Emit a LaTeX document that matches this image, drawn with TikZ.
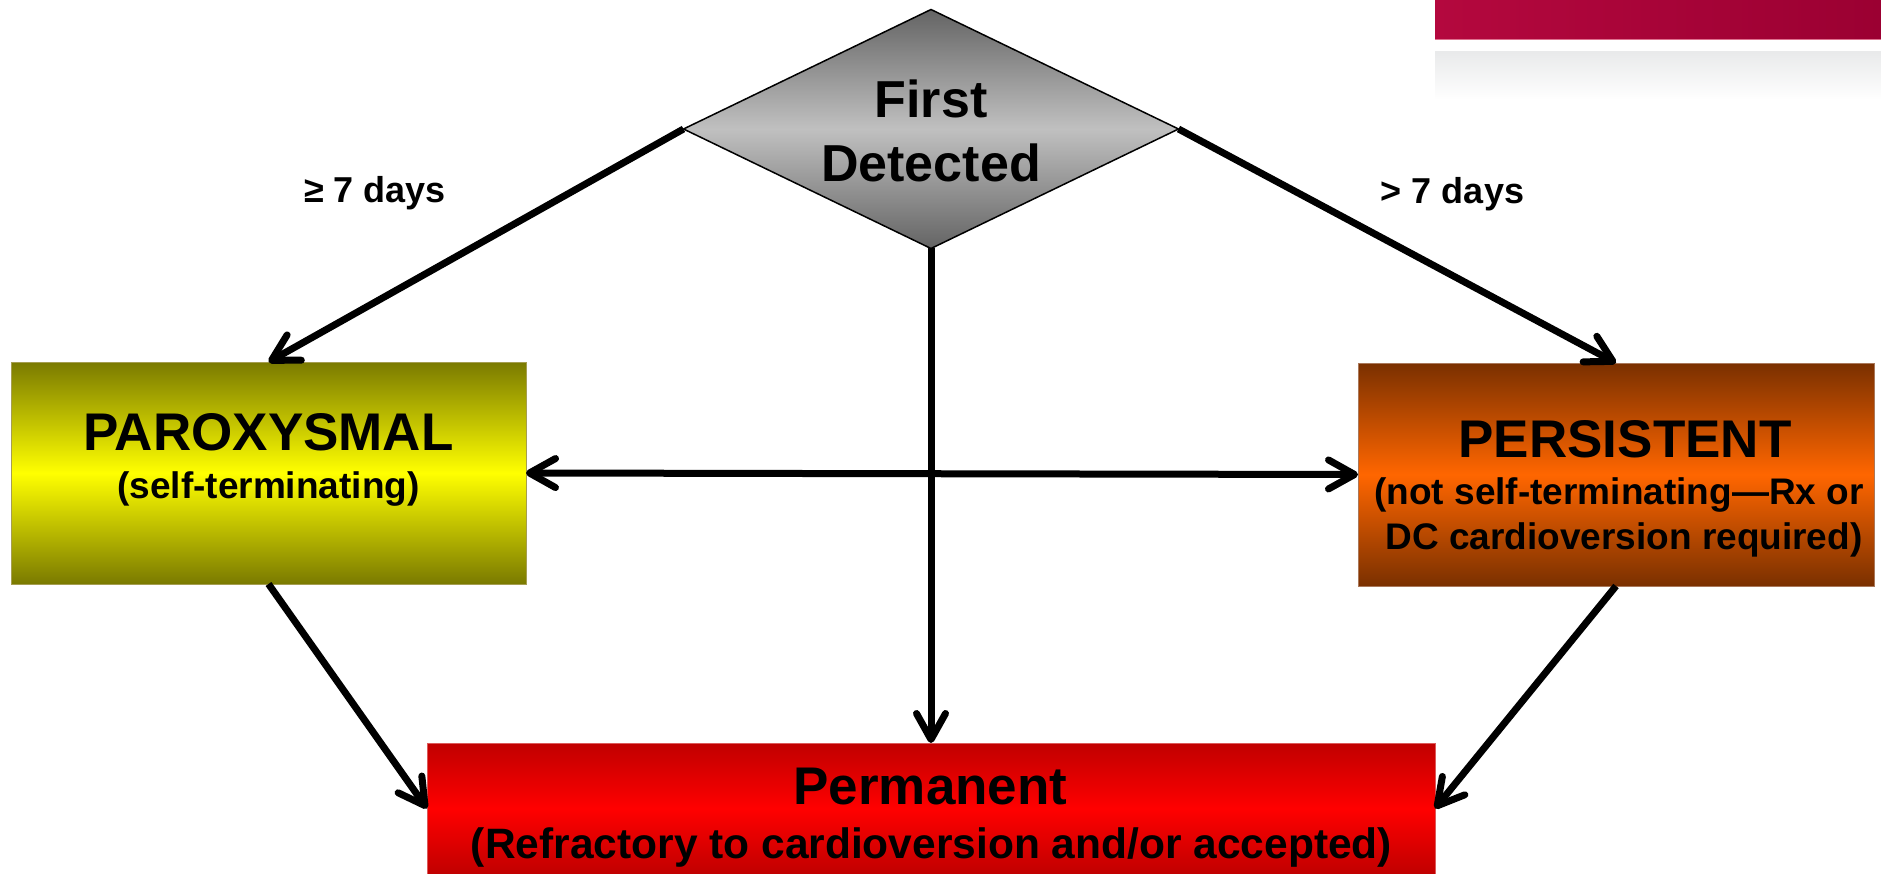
\documentclass[tikz,border=0pt]{standalone}
\usepackage{fontspec}
\setmainfont{Liberation Sans}
\usetikzlibrary{arrows.meta,shapes.geometric}

% palette
\definecolor{olv}{RGB}{122,122,0}
\definecolor{yel}{RGB}{255,255,0}
\definecolor{parEdge}{RGB}{165,158,80}
\definecolor{brn}{RGB}{122,48,0}
\definecolor{org}{RGB}{255,102,0}
\definecolor{perEdge}{RGB}{170,120,90}
\definecolor{dred}{RGB}{192,0,0}
\definecolor{pred}{RGB}{255,0,0}
\definecolor{permEdge}{RGB}{220,90,90}
\definecolor{dgray}{RGB}{100,100,100}
\definecolor{lgray}{RGB}{192,192,192}
\definecolor{barL}{RGB}{180,8,62}
\definecolor{barR}{RGB}{155,0,50}
\definecolor{barEdge}{RGB}{222,112,142}
\definecolor{band}{RGB}{233,234,235}

\begin{document}
\begin{tikzpicture}[x=1pt,y=-1pt,
  openbarb/.tip={Straight Barb[length=26pt,width=29pt,round]},
  flow/.style={line width=7pt,-openbarb},
  both/.style={line width=7pt,openbarb-openbarb},
  stage/.style={rectangle,inner sep=0pt,outer sep=0pt,line width=1pt,shade},
  big/.style={anchor=base,inner sep=0pt,font=\fontsize{53}{60}\selectfont\bfseries},
  mid/.style={anchor=base,inner sep=0pt,font=\fontsize{42.5}{48}\selectfont\bfseries},
  small/.style={anchor=base,inner sep=0pt,font=\fontsize{37}{44}\selectfont\bfseries},
  lab/.style={anchor=base,inner sep=0pt,font=\fontsize{36}{42}\selectfont\bfseries}]

\useasboundingbox (0,0) rectangle (1881,874);

% header band in the upper right corner
\shade[left color=barL,right color=barR] (1435,0) rectangle (1881,39);
\draw[barEdge,line width=1.5pt] (1435,39.5) -- (1881,39.5);
\shade[top color=band,bottom color=white] (1435,52) rectangle (1881,100);

% decision diamond
\node[diamond,aspect=2,shade,top color=dgray,bottom color=dgray,middle color=lgray,
      draw=black,line width=1.5pt,minimum width=495pt,minimum height=239pt,
      inner sep=0pt,outer sep=0pt] (fd) at (931,129) {};
\node[big,font=\fontsize{52}{60}\selectfont\bfseries] (fdA) at (931,118) {First};
\node[big,font=\fontsize{52}{60}\selectfont\bfseries] (fdB) at (931,182) {Detected};

% paroxysmal
\node[stage,top color=olv,bottom color=olv,middle color=yel,draw=parEdge,
      minimum width=515pt,minimum height=222pt] (par) at (268.5,473) {};
\node[big] (parA) at (268.5,450) {PAROXYSMAL};
\node[small] (parB) at (268.5,498) {(self-terminating)};

% persistent
\node[stage,top color=brn,bottom color=brn,middle color=org,draw=perEdge,
      minimum width=516pt,minimum height=223pt] (per) at (1616,474.5) {};
\node[big] (perA) at (1625,457) {PERSISTENT};
\node[small] (perB) at (1619,504) {(not self-terminating—Rx or};
\node[small] (perC) at (1624,549) {DC cardioversion required)};

% permanent
\node[stage,top color=dred,bottom color=dred,middle color=pred,draw=permEdge,
      minimum width=1008pt,minimum height=131pt] (perm) at (931,808.5) {};
\node[big] (permA) at (930.5,804) {Permanent};
\node[mid] (permB) at (931.5,858) {(Refractory to cardioversion and/or accepted)};

% duration labels
\node[lab] (lblA) at (375,203) {≥ 7 days};
\node[lab] (lblB) at (1452.5,204) {> 7 days};

% connectors
\draw[flow] (fd.west) -- (par.north);
\draw[flow] (fd.east) -- (per.north);
\draw[flow] (fd.south) -- (perm.north);
\draw[both] (par.east) -- (per.west);
\draw[flow] (par.south) -- (perm.west);
\draw[flow] (per.south) -- (perm.east);
\end{tikzpicture}
\end{document}
